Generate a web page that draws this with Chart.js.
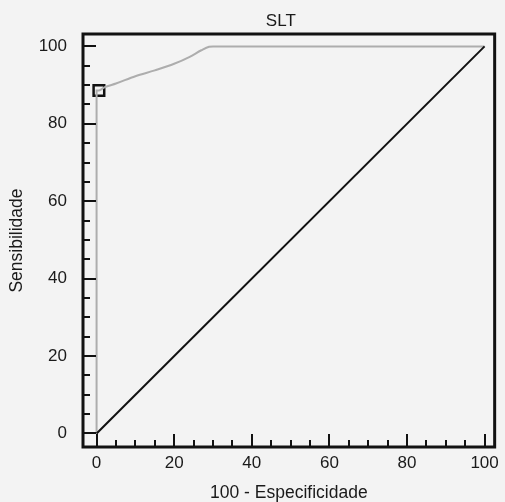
<!DOCTYPE html>
<html>
<head>
<meta charset="utf-8">
<script src="https://cdn.jsdelivr.net/npm/chart.js@4/dist/chart.umd.min.js"></script>
<style>
  html, body { margin: 0; padding: 0; background: #f3f3f3; }
  #wrap { width: 505px; height: 502px; }
</style>
</head>
<body>
<div id="wrap"><canvas id="c" width="505" height="502"></canvas></div>
<script>
// ---- data ----
const chartTitle = "SLT";
const xTitle = "100 - Especificidade";
const yTitle = "Sensibilidade";
const xMajorTicks = [0, 20, 40, 60, 80, 100];
const yMajorTicks = [0, 20, 40, 60, 80, 100];
const minorStep = 5;
const rocX = [0, 0, 0.6, 2, 5, 10, 15, 20, 24, 27, 29, 30, 50, 75, 100];
const rocY = [0, 88.6, 88.6, 89.4, 90.4, 92.3, 93.8, 95.5, 97.3, 99.0, 99.9, 100, 100, 100, 100];
const diagX = [0, 100];
const diagY = [0, 100];
const optimalX = [0.6];
const optimalY = [88.6];

const toPts = (xs, ys) => xs.map((x, i) => ({ x: x, y: ys[i] }));

const framePlugin = {
  id: 'frameTicks',
  afterDraw(chart) {
    const ctx = chart.ctx;
    const a = chart.chartArea;
    const xs = chart.scales.x, ys = chart.scales.y;
    ctx.save();
    ctx.strokeStyle = '#111';
    ctx.lineWidth = 2;
    for (let v = 0; v <= 100; v += minorStep) {
      const major = xMajorTicks.includes(v);
      const px = Math.round(xs.getPixelForValue(v));
      ctx.beginPath();
      ctx.moveTo(px, a.bottom);
      ctx.lineTo(px, a.bottom - (major ? 13 : 7));
      ctx.stroke();
    }
    for (let v = 0; v <= 100; v += minorStep) {
      const major = yMajorTicks.includes(v);
      const py = Math.round(ys.getPixelForValue(v));
      ctx.beginPath();
      ctx.moveTo(a.left, py);
      ctx.lineTo(a.left + (major ? 13 : 7), py);
      ctx.stroke();
    }
    ctx.lineWidth = 3;
    ctx.strokeRect(a.left, a.top, a.right - a.left, a.bottom - a.top);
    ctx.fillStyle = '#1a1a1a';
    ctx.font = '17px "Liberation Sans", Arial, sans-serif';
    ctx.textAlign = 'center';
    ctx.textBaseline = 'middle';
    ctx.fillText(chartTitle, (a.left + a.right) / 2 - 8, 21);
    ctx.restore();
  }
};

const tickFont = { family: '"Liberation Sans", Arial, sans-serif', size: 17 };
const titleFont = { family: '"Liberation Sans", Arial, sans-serif', size: 17.5, lineHeight: 1 };

new Chart(document.getElementById('c'), {
  type: 'scatter',
  data: {
    datasets: [
      {
        data: toPts(diagX, diagY), showLine: true,
        borderColor: '#111', borderWidth: 2, pointRadius: 0
      },
      {
        data: toPts(rocX, rocY), showLine: true,
        borderColor: '#adadad', borderWidth: 2, pointRadius: 0,
        cubicInterpolationMode: 'monotone'
      },
      {
        data: toPts(optimalX, optimalY), showLine: false,
        pointStyle: 'rect', pointRadius: 7.5, borderColor: '#111',
        borderWidth: 2.5, backgroundColor: 'rgba(0,0,0,0)'
      }
    ]
  },
  options: {
    responsive: false,
    animation: false,
    layout: { padding: { top: 34, right: 5, left: 0, bottom: 0 } },
    plugins: { legend: { display: false }, tooltip: { enabled: false }, title: { display: false } },
    scales: {
      x: {
        type: 'linear', min: -3.5, max: 102.6,
        grid: { display: false, drawTicks: false }, border: { display: false },
        afterBuildTicks(s) { s.ticks = xMajorTicks.map(v => ({ value: v })); },
        afterFit(s) { s.height = 55; },
        ticks: { font: tickFont, color: '#1a1a1a', padding: 6, maxRotation: 0, autoSkip: false },
        title: { display: true, text: xTitle, font: titleFont, color: '#1a1a1a', padding: { top: 0, bottom: 0 } }
      },
      y: {
        type: 'linear', min: -3.5, max: 103.2,
        grid: { display: false, drawTicks: false }, border: { display: false },
        afterBuildTicks(s) { s.ticks = yMajorTicks.map(v => ({ value: v })); },
        afterFit(s) { s.width = 83; },
        ticks: { font: tickFont, color: '#1a1a1a', padding: 16, autoSkip: false },
        title: { display: true, text: yTitle, font: titleFont, color: '#1a1a1a', padding: { top: 8, bottom: 0 } }
      }
    }
  },
  plugins: [framePlugin]
});
</script>
</body>
</html>
